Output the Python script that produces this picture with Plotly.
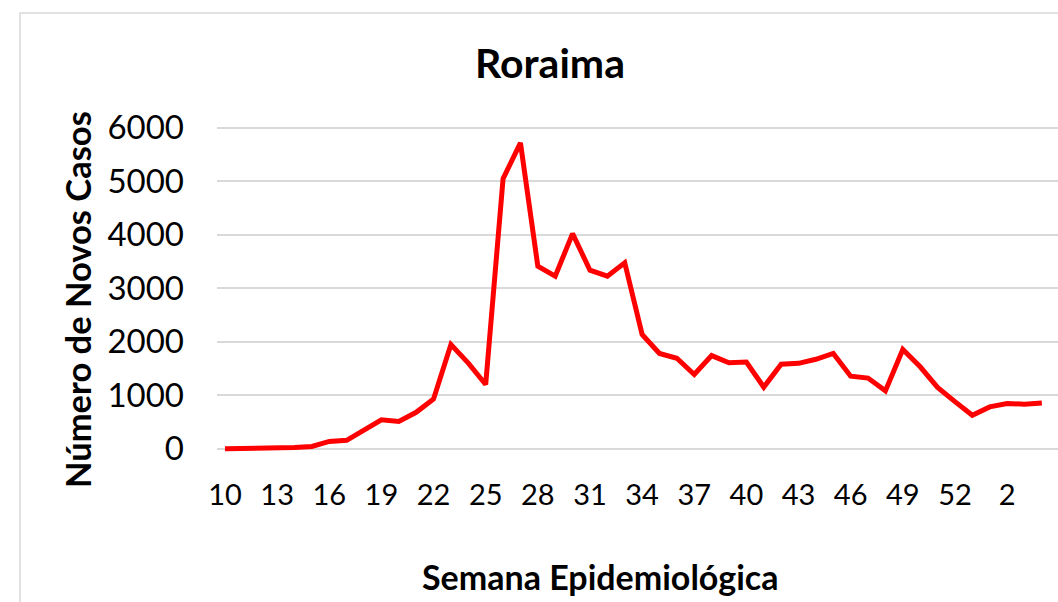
import plotly.graph_objects as go

weeks = [str(w) for w in range(10, 54)] + ["1", "2", "3", "4"]
new_cases = [0, 0, 3, 10, 20, 40, 135, 155, 340, 540, 510, 680, 930, 1945, 1600, 1200,
             5045, 5715, 3410, 3225, 4020, 3335, 3225, 3475, 2135, 1780, 1690, 1385,
             1740, 1605, 1620, 1150, 1580, 1595, 1670, 1780, 1355, 1320, 1080, 1855,
             1530, 1145, 880, 625, 780, 845, 830, 855]
x_tick_labels = ["10", "13", "16", "19", "22", "25", "28", "31", "34", "37", "40",
                 "43", "46", "49", "52", "2"]
y_tick_values = [0, 1000, 2000, 3000, 4000, 5000, 6000]

title_text = "Roraima"
x_title = "Semana Epidemiológica"
y_title = "Número de Novos Casos"

W, H = 1058, 602
L, R, T, B = 217, 0, 125, 148
PW, PH = W - L - R, H - T - B


def px_x(x):
    return (x - L) / PW


def px_y(y):
    return (H - B - y) / PH


FONT = "Lato"

fig = go.Figure()
fig.add_trace(go.Scatter(
    x=weeks, y=new_cases, mode="lines",
    line=dict(color="#ff0000", width=5),
    hoverinfo="x+y", showlegend=False,
))

fig.update_layout(
    width=W, height=H,
    margin=dict(l=L, r=R, t=T, b=B, pad=0),
    paper_bgcolor="white", plot_bgcolor="white",
    font=dict(family=FONT, color="black"),
    xaxis=dict(
        type="category", range=[-0.46, 47.93],
        tickmode="array", tickvals=x_tick_labels, ticktext=x_tick_labels,
        showgrid=False, zeroline=False, showline=False, ticks="",
        tickfont=dict(family=FONT, size=29, color="black"),
        ticklabelstandoff=21,
    ),
    yaxis=dict(
        range=[-100, 6050], tickmode="array", tickvals=y_tick_values,
        showgrid=True, gridcolor="#d9d9d9", gridwidth=1.5,
        zeroline=False, showline=False, ticks="",
        tickfont=dict(family=FONT, size=33, color="black"),
        ticklabelstandoff=32,
    ),
    shapes=[dict(
        type="rect", xref="paper", yref="paper",
        x0=px_x(20), x1=px_x(1070), y0=px_y(620), y1=px_y(13),
        line=dict(color="#d9d9d9", width=1.5), fillcolor="rgba(0,0,0,0)",
        layer="below",
    )],
    annotations=[
        dict(text="<b>" + title_text + "</b>", xref="paper", yref="paper",
             x=px_x(550), y=px_y(62), xanchor="center", yanchor="middle",
             showarrow=False, font=dict(family=FONT, size=41, color="black")),
        dict(text="<b>" + x_title + "</b>", xref="paper", yref="paper",
             x=px_x(600), y=px_y(576), xanchor="center", yanchor="middle",
             showarrow=False, font=dict(family=FONT, size=34, color="black")),
        dict(text="<b>" + y_title + "</b>", xref="paper", yref="paper",
             x=px_x(77), y=px_y(300), xanchor="center", yanchor="middle",
             textangle=-90,
             showarrow=False, font=dict(family=FONT, size=34.5, color="black")),
    ],
)

fig.write_html("out.html", config={"displayModeBar": False},
               post_script="document.body.style.margin='0';")
